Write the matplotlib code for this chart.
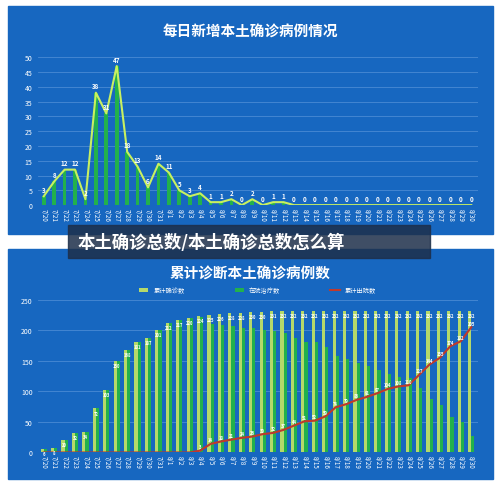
import matplotlib.pyplot as plt
from matplotlib.patches import Rectangle

plt.rcParams['font.family'] = ['Noto Sans CJK SC', 'DejaVu Sans']

dates = ['7/20', '7/21', '7/22', '7/23', '7/24', '7/25', '7/26', '7/27', '7/28', '7/29', '7/30', '7/31',
         '8/1', '8/2', '8/3', '8/4', '8/5', '8/6', '8/7', '8/8', '8/9', '8/10', '8/11', '8/12', '8/13',
         '8/14', '8/15', '8/16', '8/17', '8/18', '8/19', '8/20', '8/21', '8/22', '8/23', '8/24', '8/25',
         '8/26', '8/27', '8/28', '8/29', '8/30']
daily = [3, 8, 12, 12, 2, 38, 31, 47, 18, 13, 6, 14, 11, 5, 3, 4, 1, 1, 2, 0, 2, 0, 1, 1,
         0, 0, 0, 0, 0, 0, 0, 0, 0, 0, 0, 0, 0, 0, 0, 0, 0, 0]
total = [6, 8, 20, 32, 34, 72, 103, 150, 168, 181, 187, 201, 212, 217, 220, 224, 225, 226, 228, 228,
         230, 230, 231, 232, 232, 232, 232, 232, 232, 232, 232, 232, 232, 232, 232, 232, 232, 232,
         232, 232, 232, 232]
discharged = [0, 0, 0, 0, 0, 0, 0, 0, 0, 0, 0, 0, 0, 0, 0, 3, 14, 18, 21, 24, 26, 30, 32, 37, 44,
              51, 52, 59, 74, 79, 86, 91, 97, 104, 108, 110, 127, 144, 155, 174, 182, 205]
in_hosp = [t - d for t, d in zip(total, discharged)]

BLUE = '#1767c0'
fig = plt.figure(figsize=(5, 4.85), dpi=100)
fig.patches.append(Rectangle((0.015, 0.515), 0.97, 0.47, transform=fig.transFigure, color=BLUE, zorder=-1))
fig.patches.append(Rectangle((0.015, 0.01), 0.97, 0.475, transform=fig.transFigure, color=BLUE, zorder=-1))

x = list(range(len(dates)))

# top chart
ax1 = fig.add_axes([0.075, 0.575, 0.88, 0.305])
ax1.set_zorder(1)
ax1.set_facecolor(BLUE)
ax1.bar(x, daily, width=0.35, color='#22b14c')
ax1.plot(x, daily, color='#c8f060', lw=1.5)
for i, v in enumerate(daily):
    ax1.text(i, v + 1.5, str(v), color='white', fontsize=4.5, ha='center', weight='bold')
ax1.set_ylim(0, 50)
ax1.set_yticks(range(0, 51, 5))
ax1.set_xlim(-0.6, len(x) - 0.4)
ax1.set_xticks(x)
ax1.set_xticklabels(dates, rotation=270, fontsize=4.5, color='white')
ax1.tick_params(axis='y', labelsize=5, colors='white', length=0)
ax1.tick_params(axis='x', length=0, pad=2)
ax1.grid(axis='y', color='#4a8ad4', lw=0.6)
ax1.set_axisbelow(True)
for s in ax1.spines.values():
    s.set_visible(False)
fig.text(0.5, 0.925, '每日新增本土确诊病例情况', color='white', fontsize=10.5, weight='bold', ha='center')

# bottom chart
ax2 = fig.add_axes([0.075, 0.065, 0.88, 0.315])
ax2.set_zorder(1)
ax2.set_facecolor(BLUE)
w = 0.3
b1 = ax2.bar([i - w / 2 for i in x], total, width=w, color='#b5d96a', label='累计确诊数')
b2 = ax2.bar([i + w / 2 for i in x], in_hosp, width=w, color='#22b14c', label='在院治疗数')
l3, = ax2.plot(x, discharged, color='#c0392b', lw=1.5, label='累计出院数')
for i in x:
    ax2.text(i, total[i] - 10, str(total[i]), color='white', fontsize=3, ha='center', weight='bold')
    if discharged[i] > 0:
        ax2.text(i, discharged[i] + 4, str(discharged[i]), color='white', fontsize=3, ha='center', weight='bold')
ax2.set_ylim(0, 250)
ax2.set_yticks(range(0, 251, 50))
ax2.set_xlim(-0.6, len(x) - 0.4)
ax2.set_xticks(x)
ax2.set_xticklabels(dates, rotation=270, fontsize=4.5, color='white')
ax2.tick_params(axis='y', labelsize=5, colors='white', length=0)
ax2.tick_params(axis='x', length=0, pad=2)
ax2.grid(axis='y', color='#4a8ad4', lw=0.6)
ax2.set_axisbelow(True)
for s in ax2.spines.values():
    s.set_visible(False)
ax2.legend(handles=[b1, b2, l3], loc='lower center', bbox_to_anchor=(0.5, 1.0), ncol=3, frameon=False,
           fontsize=4.5, labelcolor='white', handlelength=1.5, columnspacing=8)
fig.text(0.5, 0.425, '累计诊断本土确诊病例数', color='white', fontsize=10.5, weight='bold', ha='center')

# banner overlay
fig.patches.append(Rectangle((0.135, 0.465), 0.725, 0.07, transform=fig.transFigure,
                             color='#1d2f4a', alpha=0.85, zorder=5))
fig.text(0.155, 0.5, '本土确诊总数/本土确诊总数怎么算', color='white', fontsize=12.5, weight='bold',
         va='center', zorder=6)

fig.savefig('out.png', facecolor='white')
